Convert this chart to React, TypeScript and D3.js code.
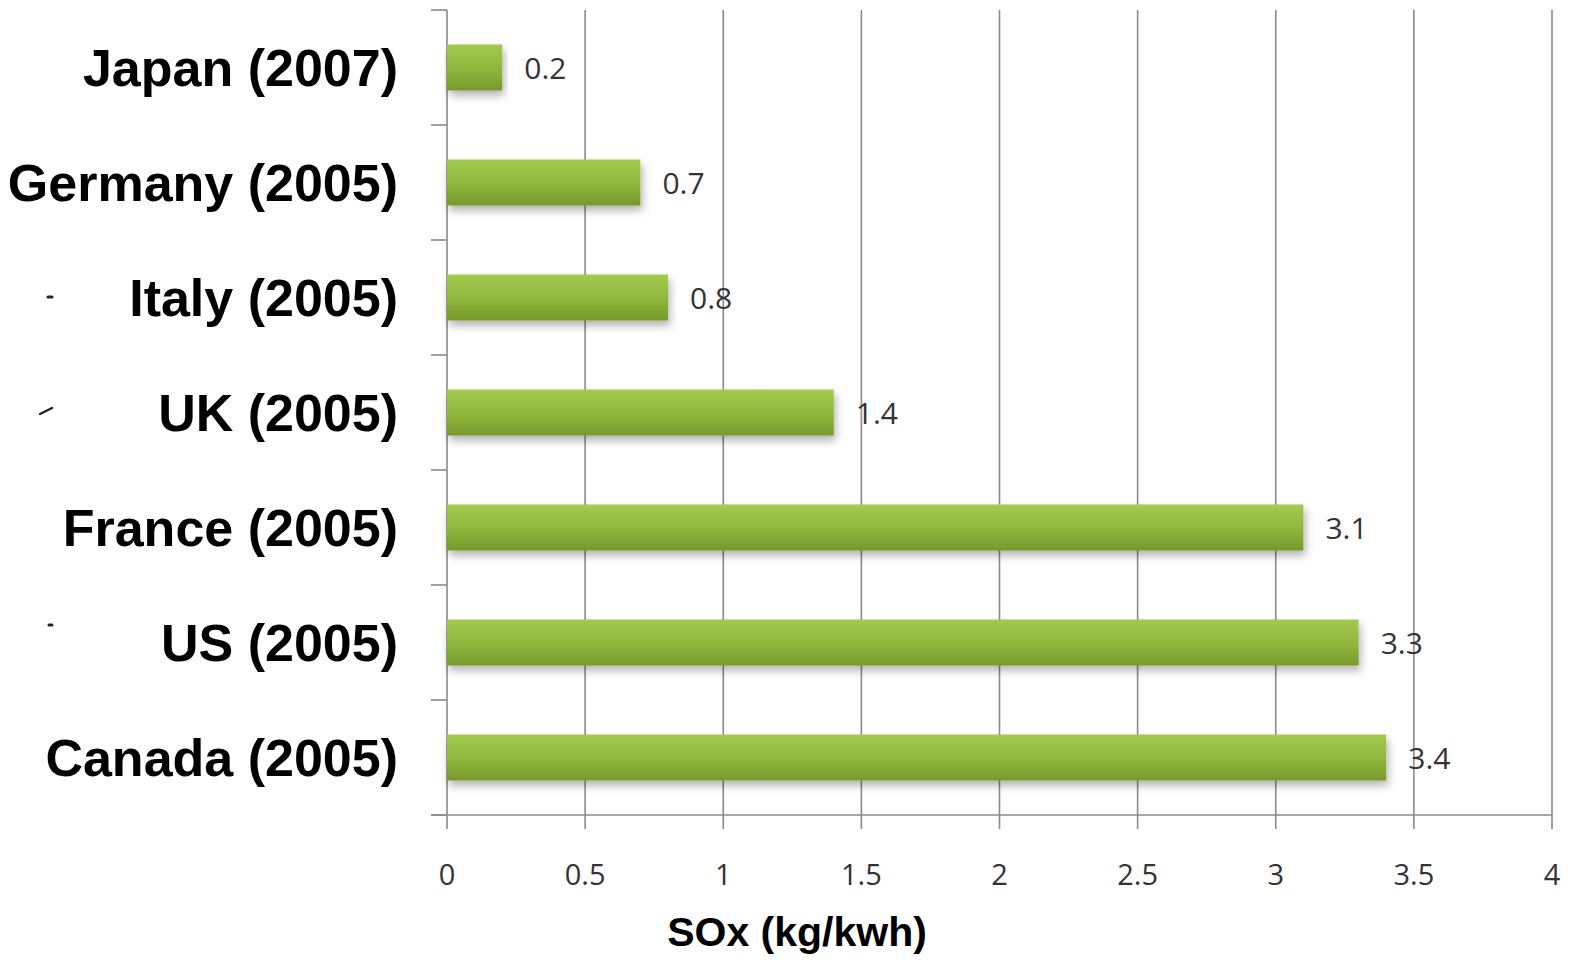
import React from "react";
import * as d3 from "d3";

const categories = ["Japan (2007)", "Germany (2005)", "Italy (2005)", "UK (2005)", "France (2005)", "US (2005)", "Canada (2005)"];
const values = [0.2, 0.7, 0.8, 1.4, 3.1, 3.3, 3.4];
const xTicks = [0, 0.5, 1, 1.5, 2, 2.5, 3, 3.5, 4];
const xTitle = "SOx (kg/kwh)";

const W = 1587;
const H = 960;
const left = 447;
const right = 1552;
const top = 10;
const bottom = 815;

export default function App() {
  const x = d3.scaleLinear().domain([0, 4]).range([left, right]);
  const y = d3.scaleBand().domain(categories).range([top, bottom]).paddingInner(0.6).paddingOuter(0.3);
  const yStep = (bottom - top) / categories.length;
  const catTicks = d3.range(categories.length + 1).map((i) => top + i * yStep);

  return (
    <div style={{ position: "absolute", left: 0, top: 0 }}>
      <svg width={W} height={H} style={{ display: "block", background: "#fff" }}>
        <defs>
          <linearGradient id="barGrad" x1="0" y1="0" x2="0" y2="1">
            <stop offset="0%" stopColor="#a3cb4f" />
            <stop offset="55%" stopColor="#8fb63c" />
            <stop offset="100%" stopColor="#76992b" />
          </linearGradient>
          <filter id="shadow" x="-5%" y="-30%" width="115%" height="190%">
            <feDropShadow dx="2" dy="5" stdDeviation="4" floodColor="#000" floodOpacity="0.3" />
          </filter>
        </defs>
        {xTicks.slice(1).map((t) => (
          <line key={"g" + t} x1={x(t)} x2={x(t)} y1={top} y2={bottom} stroke="#8a8a8a" strokeWidth={1.6} />
        ))}
        <line x1={left} x2={left} y1={top} y2={bottom} stroke="#8a8a8a" strokeWidth={1.6} />
        {catTicks.map((t, i) => (
          <line key={"ct" + i} x1={left - 16} x2={left} y1={t} y2={t} stroke="#8a8a8a" strokeWidth={1.6} />
        ))}
        <line x1={left - 16} x2={right} y1={bottom} y2={bottom} stroke="#8a8a8a" strokeWidth={1.6} />
        {xTicks.map((t) => (
          <line key={"xt" + t} x1={x(t)} x2={x(t)} y1={bottom} y2={bottom + 14} stroke="#8a8a8a" strokeWidth={1.6} />
        ))}
        {xTicks.map((t) => (
          <text key={"xl" + t} x={x(t)} y={885} textAnchor="middle" fontFamily="'Open Sans', 'DejaVu Sans', sans-serif" fontSize={29} fill="#333">
            {String(t)}
          </text>
        ))}
        {categories.map((c, i) => (
          <rect key={"b" + c} x={x(0)} y={y(c)!} width={x(values[i]) - x(0)} height={y.bandwidth()} fill="url(#barGrad)" filter="url(#shadow)" />
        ))}
        {categories.map((c, i) => (
          <text key={"v" + c} x={x(values[i]) + 22} y={y(c)! + y.bandwidth() / 2 + 11} fontFamily="'Open Sans', 'DejaVu Sans', sans-serif" fontSize={30} fill="#333">
            {String(values[i])}
          </text>
        ))}
        {categories.map((c) => (
          <text key={"c" + c} x={398} y={y(c)! + y.bandwidth() / 2 + 18} textAnchor="end" fontFamily="'Liberation Sans', Arial, sans-serif" fontWeight="bold" fontSize={52} fill="#000">
            {c}
          </text>
        ))}
        <text x={797} y={946} textAnchor="middle" fontFamily="'Liberation Sans', Arial, sans-serif" fontWeight="bold" fontSize={41} fill="#000">
          {xTitle}
        </text>
        <line x1={48} x2={52} y1={297} y2={297} stroke="#222" strokeWidth={3} strokeLinecap="round" />
        <line x1={40} x2={52} y1={414} y2={408} stroke="#222" strokeWidth={2.5} strokeLinecap="round" />
        <line x1={49} x2={52} y1={625} y2={625} stroke="#222" strokeWidth={3} strokeLinecap="round" />
      </svg>
    </div>
  );
}
